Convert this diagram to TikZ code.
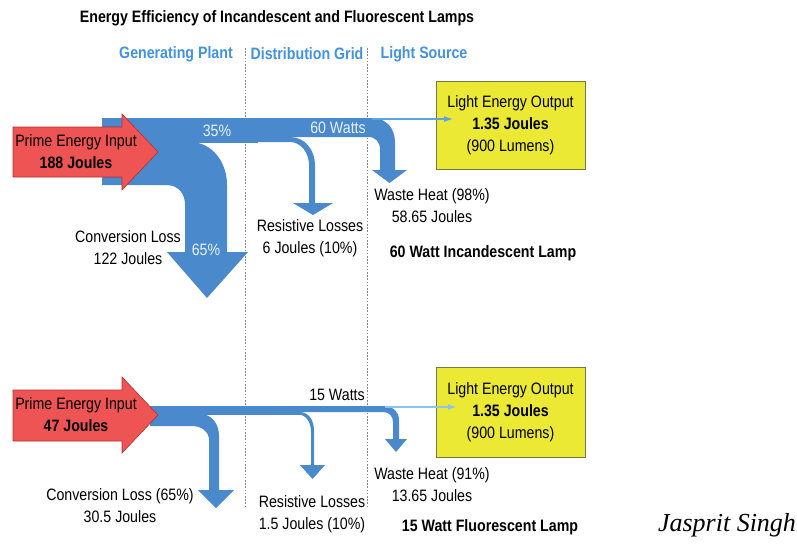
\documentclass[tikz,border=0pt]{standalone}
\usepackage{fontspec}
\setmainfont{Liberation Sans}[FakeStretch=0.86]
\newfontfamily\signfont{Liberation Serif}
\usepackage{tikz}
\usetikzlibrary{positioning,arrows.meta}

\definecolor{flowblue}{RGB}{74,137,204}
\definecolor{thinblue}{RGB}{92,163,230}
\definecolor{paleblue}{RGB}{142,195,238}
\definecolor{headblue}{RGB}{66,146,222}
\definecolor{inputred}{RGB}{238,84,84}
\definecolor{inputedge}{RGB}{185,45,45}
\definecolor{boxyellow}{RGB}{236,233,52}
\definecolor{boxedge}{RGB}{120,118,70}
\definecolor{gridgray}{RGB}{135,135,135}

\begin{document}
\begin{tikzpicture}[x=1pt,y=-1pt,
    every node/.style={font=\fontsize{16.5}{22}\selectfont,align=center,inner sep=0pt},
    flow/.style={fill=flowblue},
    inarrow/.style={fill=inputred,draw=inputedge,line width=0.6pt},
    outbox/.style={rectangle,fill=boxyellow,draw=boxedge,line width=0.8pt,minimum width=149pt},
    gridline/.style={draw=gridgray,line width=0.8pt,dash pattern=on 1.6pt off 1.6pt},
    stage/.style={text=headblue,font=\fontsize{16.5}{22}\selectfont\bfseries},
    inflow/.style={text=white!88!flowblue},
    boldtxt/.style={font=\fontsize{16.5}{22}\selectfont\bfseries},
    lightline/.style={-{Latex[length=9pt,width=6pt]}},
]
    \useasboundingbox (0,0) rectangle (797,552);

	% title and stages
    \node (title) [boldtxt] at (277,18) {Energy Efficiency of Incandescent and Fluorescent Lamps};
    \node (gP) [stage] at (176,54) {Generating Plant};
    \node (dG) [stage] at (307,54) {Distribution Grid};
    \node (lS) [stage] at (424,54) {Light Source};

    \draw[gridline] (245.5,48) -- (245.5,508);
    \draw[gridline] (367,48) -- (367,508);

	% incandescent flows
    \fill[flow] (102,142) -- (190,142) .. controls (212,142) and (227,162) .. (227,185)
        -- (227,252) -- (248,252) -- (207,298) -- (167,252) -- (185,252) -- (185,205)
        .. controls (185,193) and (178,185) .. (166,185) -- (102,185) -- cycle;
    \fill[flow] (102,118) rectangle (258,142.5);
    \fill[flow] (258,137) -- (290,137) .. controls (305,137) and (315,150) .. (315,165)
        -- (315,203) -- (333,203) -- (313,215) -- (293,203) -- (309,203) -- (309,165)
        .. controls (309,153) and (301,142) .. (290,142) -- (258,142) -- cycle;
    \fill[flow] (257,118) -- (372,118) .. controls (386,118) and (395,128) .. (395,142)
        -- (395,170) -- (407,170) -- (389.5,183) -- (372,170) -- (380,170) -- (380,150)
        .. controls (380,142) and (376,137) .. (368,137) -- (257,137) -- cycle;
    \draw[inarrow] (13,127) -- (122,127) -- (122,114) -- (158,152) -- (122,190) -- (122,177) -- (13,177) -- cycle;

	% fluorescent flows
    \fill[flow] (150,414) -- (200,414) .. controls (212,414) and (219,424) .. (219,436)
        -- (219,490) -- (234,490) -- (216,508) -- (198,490) -- (209,490) -- (209,440)
        .. controls (209,432) and (202,426) .. (192,426) -- (150,426) -- cycle;
    \fill[flow] (150,406) rectangle (301,414.5);
    \fill[flow] (290,412) -- (300,412) .. controls (308,412) and (314,420) .. (314,430)
        -- (314,465) -- (325,465) -- (312.5,479) -- (300,465) -- (311,465) -- (311,432)
        .. controls (311,422) and (306,414.5) .. (298,414.5) -- (290,414.5) -- cycle;
    \fill[flow] (300,406) -- (385,406) .. controls (393,406) and (399,412) .. (399,420)
        -- (399,439) -- (407,439) -- (396,452) -- (385,439) -- (393,439) -- (393,422)
        .. controls (393,416) and (389,412) .. (383,412) -- (300,412) -- cycle;
    \draw[inarrow] (13,390) -- (122,390) -- (122,377) -- (158,415) -- (122,453) -- (122,441) -- (13,441) -- cycle;

	% incandescent labels
    \node (pEIa) at (76,152) {Prime Energy Input\\\textbf{188 Joules}};
    \node (cPa) [inflow] at (217,131) {35\%};
    \node (wTa) [inflow] at (338,128) {60 Watts};
    \node (cLPa) [inflow] at (206,250) {65\%};
    \node (cLa) at (128,248) {Conversion Loss\\122 Joules};
    \node (rLa) at (310,238) {Resistive Losses\\6 Joules (10\%)};
    \node (wHa) at (432,206) {Waste Heat (98\%)\\58.65 Joules};
    \node (lmpa) [boldtxt] at (483,253) {60 Watt Incandescent Lamp};
    \node (lEOa) [outbox,minimum height=88pt] at (510.5,125) {Light Energy Output\\\textbf{1.35 Joules}\\(900 Lumens)};

	% fluorescent labels
    \node (pEIb) at (76,415) {Prime Energy Input\\\textbf{47 Joules}};
    \node (wTb) at (337,395) {15 Watts};
    \node (cLb) at (120,506) {Conversion Loss (65\%)\\30.5 Joules};
    \node (rLb) at (312,514.5) {Resistive Losses\\1.5 Joules (10\%)};
    \node (wHb) at (432,484.5) {Waste Heat (91\%)\\13.65 Joules};
    \node (lmpb) [boldtxt] at (490,527) {15 Watt Fluorescent Lamp};
    \node (lEOb) [outbox,minimum height=90pt] at (510.5,412) {Light Energy Output\\\textbf{1.35 Joules}\\(900 Lumens)};

	% light that reaches the lamps
    \coordinate (sLa) at (372,119);
    \coordinate (tLa) at (453,119);
    \coordinate (sLb) at (385,407);
    \coordinate (tLb) at (457,407);
    \draw[lightline,thinblue,line width=1.2pt] (sLa) to (tLa);
    \draw[lightline,paleblue,line width=2.6pt] (sLb) to (tLb);

    \node (sig) at (727,525) {\signfont\itshape\fontsize{26}{30}\selectfont Jasprit Singh};
\end{tikzpicture}
\end{document}
